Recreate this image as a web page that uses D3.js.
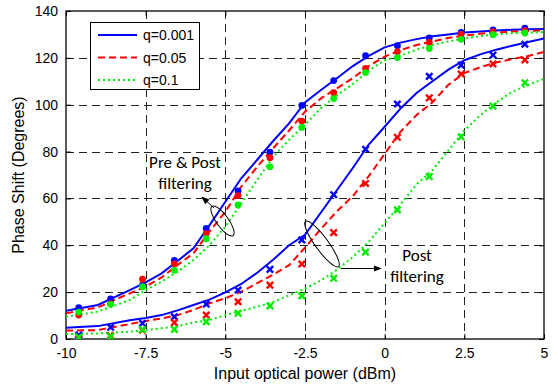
<!DOCTYPE html>
<html>
<head>
<meta charset="utf-8">
<script src="https://cdn.jsdelivr.net/npm/d3@7"></script>
<style>
  body { margin: 0; background: #fff; }
  svg { font-family: "Liberation Sans", Arial, sans-serif; }
</style>
</head>
<body>
<div id="chart"></div>
<script>
const w = 558;
const h = 388;
const margin = { left: 66, top: 11, right: 14, bottom: 49 };

// marker positions (dBm)
const markerX = [-9.6, -8.6, -7.6, -6.6, -5.6, -4.6, -3.6, -2.6, -1.6, -0.6, 0.4, 1.4, 2.4, 3.4, 4.4];
// pre & post filtering (circles)
const preBlue = [13.4, 17.1, 23, 33.6, 47.2, 63.2, 79.7, 99.7, 110.3, 120.9, 125.2, 128.5, 130.9, 131.9, 132.7];
const preRed = [10.2, 15.1, 25.5, 32.1, 45, 61.2, 77.4, 93, 105.1, 115.5, 122.6, 126.6, 130, 131.2, 131.6];
const preGreen = [11.5, 14.8, 22.3, 29.3, 42.8, 57.2, 73.5, 90.3, 102.6, 113.7, 120.1, 124, 127.9, 129.9, 130.6];
// post filtering (crosses)
const postBlue = [1.7, 5, 6.7, 9.5, 14.9, 20.9, 29.7, 42.3, 61.6, 81, 100.3, 112.1, 116.9, 121.2, 125.8];
const postRed = [0.3, 1.4, 3.8, 7, 10.2, 15.9, 23, 32, 45.4, 66.4, 86.1, 102.9, 113.1, 117.4, 119.1];
const postGreen = [0.8, 1, 4, 4.1, 7.4, 11, 14.1, 18.4, 25.9, 37.1, 55.1, 69.3, 86.3, 99.4, 109.4];

// simulated curves
const lineX = [-10, -9, -8, -7.5, -7, -6.5, -6, -5.5, -5, -4.5, -4, -3.5, -3, -2.5, -2, -1.5, -1, -0.5, 0, 0.5, 1, 1.5, 2, 2.5, 3, 3.5, 4, 4.5, 5];
const preBlueLine = [12, 14.5, 20.9, 24.2, 28, 33.3, 38.7, 48.5, 58.6, 68.6, 76.5, 84.5, 92, 101, 106.3, 111.3, 116.5, 120.8, 124.5, 126.5, 128, 129.2, 130, 130.8, 131.3, 131.7, 132, 132.2, 132.3];
const preRedLine = [11, 13.5, 19.5, 22.3, 26.3, 31.6, 36.6, 45.8, 54.3, 65, 73.5, 81.4, 89, 97, 102.7, 107, 111.3, 116.5, 120.5, 123.3, 125.5, 127, 128.5, 129.5, 130.3, 130.8, 131.2, 131.5, 131.8];
const preGreenLine = [9.5, 11.7, 16.6, 20.9, 24.5, 28.7, 33.7, 40, 47.9, 57.9, 67.9, 77.8, 85, 91.5, 98.5, 104, 108.8, 114.5, 119, 121, 123.5, 125.5, 127, 128.3, 129.3, 130, 130.5, 130.8, 131];
const postBlueLine = [4.8, 5.5, 8, 9, 10.2, 12.2, 14.5, 16.8, 19.9, 23.5, 28.3, 33.8, 40, 44.5, 54, 63.5, 73, 83, 90.6, 98.4, 105, 110, 115, 119, 121.5, 123.5, 125.2, 126.8, 128.3];
const postRedLine = [3.6, 3.8, 6.4, 7.7, 8.8, 10.2, 12.4, 15.2, 17.4, 20.2, 23.8, 27.5, 31.5, 39, 47, 54.5, 61, 69.5, 79, 88.5, 95.6, 101, 108.5, 113.5, 116, 118, 119.5, 120.8, 122.5];
const postGreenLine = [2.1, 2.4, 3.1, 3.8, 4.6, 5.5, 7, 8.1, 10.2, 12, 13.8, 15.8, 18.6, 21.5, 25, 29.5, 35, 41.5, 49.5, 57.5, 66, 72, 80.5, 89, 95.5, 101, 105.5, 108.5, 111];

const xTicks = [-10, -7.5, -5, -2.5, 0, 2.5, 5];
const yTicks = [0, 20, 40, 60, 80, 100, 120, 140];
const legendLabels = ["q=0.001", "q=0.05", "q=0.1"];
const colors = ["#0000ff", "#ff0000", "#00ee00"];
const dashes = [null, "7,4", "2,3"];

const x = d3.scaleLinear().domain([-10, 5]).range([margin.left, w - margin.right]);
const y = d3.scaleLinear().domain([0, 140]).range([h - margin.bottom, margin.top]);

const svg = d3.select("#chart").append("svg")
  .attr("width", w)
  .attr("height", h);

svg.append("rect").attr("width", w).attr("height", h).attr("fill", "#fff");

svg.append("defs").append("clipPath").attr("id", "clip")
  .append("rect")
  .attr("x", margin.left).attr("y", margin.top)
  .attr("width", w - margin.left - margin.right)
  .attr("height", h - margin.top - margin.bottom);

// grid
const grid = svg.append("g").attr("stroke", "#222").attr("stroke-width", 1).attr("stroke-dasharray", "8,5");
grid.selectAll(".gx").data(xTicks.slice(1, -1)).enter().append("line")
  .attr("x1", (d) => Math.round(x(d)) + 0.5).attr("x2", (d) => Math.round(x(d)) + 0.5)
  .attr("y1", y(140)).attr("y2", y(0));
grid.selectAll(".gy").data(yTicks.slice(1, -1)).enter().append("line")
  .attr("y1", (d) => Math.round(y(d)) + 0.5).attr("y2", (d) => Math.round(y(d)) + 0.5)
  .attr("x1", x(-10)).attr("x2", x(5));

// axes
const fmt = (d) => String(d);
svg.append("g")
  .attr("transform", `translate(0,${y(0)})`)
  .call(d3.axisBottom(x).tickValues(xTicks).tickFormat(fmt).tickSizeInner(-5).tickSizeOuter(0).tickPadding(9));
svg.append("g")
  .attr("transform", `translate(${x(-10)},0)`)
  .call(d3.axisLeft(y).tickValues(yTicks).tickFormat(fmt).tickSizeInner(-5).tickSizeOuter(0).tickPadding(8));
svg.append("g").attr("transform", `translate(0,${y(140)})`)
  .call(d3.axisTop(x).tickValues(xTicks).tickFormat("").tickSizeInner(-5).tickSizeOuter(0));
svg.append("g").attr("transform", `translate(${x(5)},0)`)
  .call(d3.axisRight(y).tickValues(yTicks).tickFormat("").tickSizeInner(-5).tickSizeOuter(0));
svg.selectAll(".domain").remove();
svg.selectAll(".tick line").attr("stroke", "#000");
svg.selectAll(".tick text").attr("font-size", 14).attr("fill", "#000")
  .attr("font-family", "'Liberation Sans', Arial, sans-serif");

// frame
svg.append("rect")
  .attr("x", x(-10)).attr("y", y(140))
  .attr("width", x(5) - x(-10)).attr("height", y(0) - y(140))
  .attr("fill", "none").attr("stroke", "#000").attr("stroke-width", 1.3);

// curves
const plot = svg.append("g").attr("clip-path", "url(#clip)");
const line = d3.line().x((d) => x(d[0])).y((d) => y(d[1]));
const curves = [
  [preBlueLine, 0], [preRedLine, 1], [preGreenLine, 2],
  [postBlueLine, 0], [postRedLine, 1], [postGreenLine, 2],
];
curves.forEach(([vals, c]) => {
  plot.append("path")
    .datum(lineX.map((v, i) => [v, vals[i]]))
    .attr("d", line)
    .attr("fill", "none")
    .attr("stroke", colors[c])
    .attr("stroke-width", 2)
    .attr("stroke-dasharray", dashes[c]);
});

// markers
[preBlue, preRed, preGreen].forEach((vals, c) => {
  plot.selectAll(null).data(vals).enter().append("circle")
    .attr("cx", (d, i) => x(markerX[i]))
    .attr("cy", (d) => y(d))
    .attr("r", 3.4)
    .attr("fill", colors[c]);
});
[postBlue, postRed, postGreen].forEach((vals, c) => {
  const s = 3.2;
  plot.selectAll(null).data(vals).enter().append("path")
    .attr("d", (d, i) => {
      const cx = x(markerX[i]), cy = y(d);
      return `M${cx - s},${cy - s}L${cx + s},${cy + s}M${cx - s},${cy + s}L${cx + s},${cy - s}`;
    })
    .attr("stroke", colors[c])
    .attr("stroke-width", 2.4);
});

// legend
const lg = svg.append("g");
lg.append("rect").attr("x", 90.5).attr("y", 22.5).attr("width", 109).attr("height", 67)
  .attr("fill", "#fff").attr("stroke", "#000").attr("stroke-width", 1);
legendLabels.forEach((t, i) => {
  const ly = 35 + i * 22.5;
  lg.append("line").attr("x1", 98).attr("x2", 137).attr("y1", ly).attr("y2", ly)
    .attr("stroke", colors[i]).attr("stroke-width", 2).attr("stroke-dasharray", dashes[i]);
  lg.append("text").attr("x", 143).attr("y", ly).attr("dy", "0.36em")
    .attr("font-size", 14).text(t);
});

// axis titles
svg.append("text")
  .attr("x", (x(-10) + x(5)) / 2).attr("y", 379)
  .attr("text-anchor", "middle").attr("font-size", 16)
  .text("Input optical power (dBm)");
svg.append("text")
  .attr("transform", `translate(24,${(y(0) + y(140)) / 2}) rotate(-90)`)
  .attr("text-anchor", "middle").attr("font-size", 16)
  .text("Phase Shift (Degrees)");

// annotations
svg.append("defs").append("marker").attr("id", "arr")
  .attr("viewBox", "0 0 10 10").attr("refX", 9).attr("refY", 5)
  .attr("markerWidth", 8).attr("markerHeight", 8).attr("orient", "auto")
  .append("path").attr("d", "M0,1L10,5L0,9Z").attr("fill", "#000");

const ann = svg.append("g").attr("font-family", "Carlito, 'Open Sans', Lato, sans-serif").attr("font-size", 17);
ann.append("ellipse").attr("cx", 222.5).attr("cy", 221).attr("rx", 18).attr("ry", 6)
  .attr("transform", "rotate(54,222.5,221)").attr("fill", "none").attr("stroke", "#000");
ann.append("line").attr("x1", 214).attr("y1", 208).attr("x2", 202).attr("y2", 197)
  .attr("stroke", "#000").attr("marker-end", "url(#arr)");
ann.append("text").attr("x", 185).attr("y", 168).attr("text-anchor", "middle").text("Pre & Post");
ann.append("text").attr("x", 185).attr("y", 189).attr("text-anchor", "middle").text("filtering");

ann.append("ellipse").attr("cx", 322).attr("cy", 244).attr("rx", 28).attr("ry", 6.5)
  .attr("transform", "rotate(54,322,244)").attr("fill", "none").attr("stroke", "#000");
ann.append("line").attr("x1", 341).attr("y1", 268.5).attr("x2", 381).attr("y2", 268.5)
  .attr("stroke", "#000").attr("marker-end", "url(#arr)");
ann.append("text").attr("x", 417).attr("y", 261).attr("text-anchor", "middle").text("Post");
ann.append("text").attr("x", 417).attr("y", 282).attr("text-anchor", "middle").text("filtering");
</script>
</body>
</html>
